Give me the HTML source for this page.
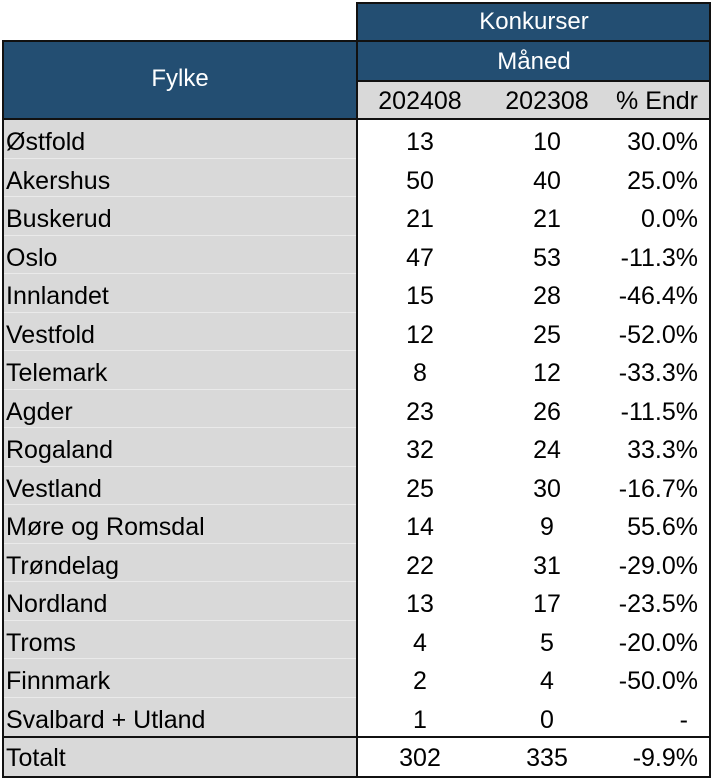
<!DOCTYPE html><html><head><style>
body{margin:0;width:724px;height:782px;background:#fff;font-family:"Liberation Sans",sans-serif;position:relative;overflow:hidden}
div{position:absolute;box-sizing:border-box}
.t{font-size:25px;color:#000;line-height:38px;white-space:nowrap}
.n{font-size:25px;color:#000;line-height:38px;white-space:nowrap}
</style></head><body>
<div style="left:356px;top:2px;width:355px;height:80px;background:#234e72;border:2px solid #111"></div>
<div style="left:356px;top:40px;width:355px;height:2px;background:#111"></div>
<div style="left:2px;top:40px;width:356px;height:80px;background:#234e72;border:2px solid #111"></div>
<div class="n" style="left:358px;top:3px;width:352px;text-align:center;color:#fff;font-size:24px">Konkurser</div>
<div class="n" style="left:358px;top:43px;width:352px;text-align:center;color:#fff;font-size:24px">Måned</div>
<div class="n" style="left:4px;top:60px;width:352px;text-align:center;color:#fff;font-size:24px">Fylke</div>
<div style="left:356px;top:80px;width:355px;height:40px;background:#d9d9d9;border:2px solid #111"></div>
<div class="n" style="left:360px;top:82px;width:120px;text-align:center">202408</div>
<div class="n" style="left:487px;top:82px;width:120px;text-align:center">202308</div>
<div class="n" style="left:590px;top:82px;width:108px;text-align:right">% Endr</div>
<div style="left:2px;top:118px;width:356px;height:620px;background:#d9d9d9;border:2px solid #111"></div>
<div style="left:356px;top:118px;width:355px;height:620px;background:#fff;border:2px solid #111"></div>
<div style="left:2px;top:736px;width:356px;height:42px;background:#d9d9d9;border:2px solid #111"></div>
<div style="left:356px;top:736px;width:355px;height:42px;background:#fff;border:2px solid #111"></div>
<div id="rows"></div>
<script>
var d=[["Østfold",13,10,"30.0%"],["Akershus",50,40,"25.0%"],["Buskerud",21,21,"0.0%"],["Oslo",47,53,"-11.3%"],["Innlandet",15,28,"-46.4%"],["Vestfold",12,25,"-52.0%"],["Telemark",8,12,"-33.3%"],["Agder",23,26,"-11.5%"],["Rogaland",32,24,"33.3%"],["Vestland",25,30,"-16.7%"],["Møre og Romsdal",14,9,"55.6%"],["Trøndelag",22,31,"-29.0%"],["Nordland",13,17,"-23.5%"],["Troms",4,5,"-20.0%"],["Finnmark",2,4,"-50.0%"],["Svalbard + Utland",1,0,"-"]];
var h="";
d.forEach(function(r,i){var y=123+i*38.5;
if(i>0)h+='<div style="left:4px;top:'+(y-4)+'px;width:352px;height:1px;background:#eaeaea"></div>';
h+='<div class="t" style="left:6px;top:'+y+'px">'+r[0]+'</div>';
h+='<div class="n" style="left:360px;top:'+y+'px;width:120px;text-align:center">'+r[1]+'</div>';
h+='<div class="n" style="left:487px;top:'+y+'px;width:120px;text-align:center">'+r[2]+'</div>';
h+='<div class="n" style="left:580px;top:'+y+'px;width:'+(r[3]=="-"?108:118)+'px;text-align:right">'+r[3]+'</div>';});
var y=739;
h+='<div class="t" style="left:6px;top:'+y+'px">Totalt</div><div class="n" style="left:360px;top:'+y+'px;width:120px;text-align:center">302</div><div class="n" style="left:487px;top:'+y+'px;width:120px;text-align:center">335</div><div class="n" style="left:580px;top:'+y+'px;width:118px;text-align:right">-9.9%</div>';
document.getElementById("rows").outerHTML=h;
</script>
</body></html>
